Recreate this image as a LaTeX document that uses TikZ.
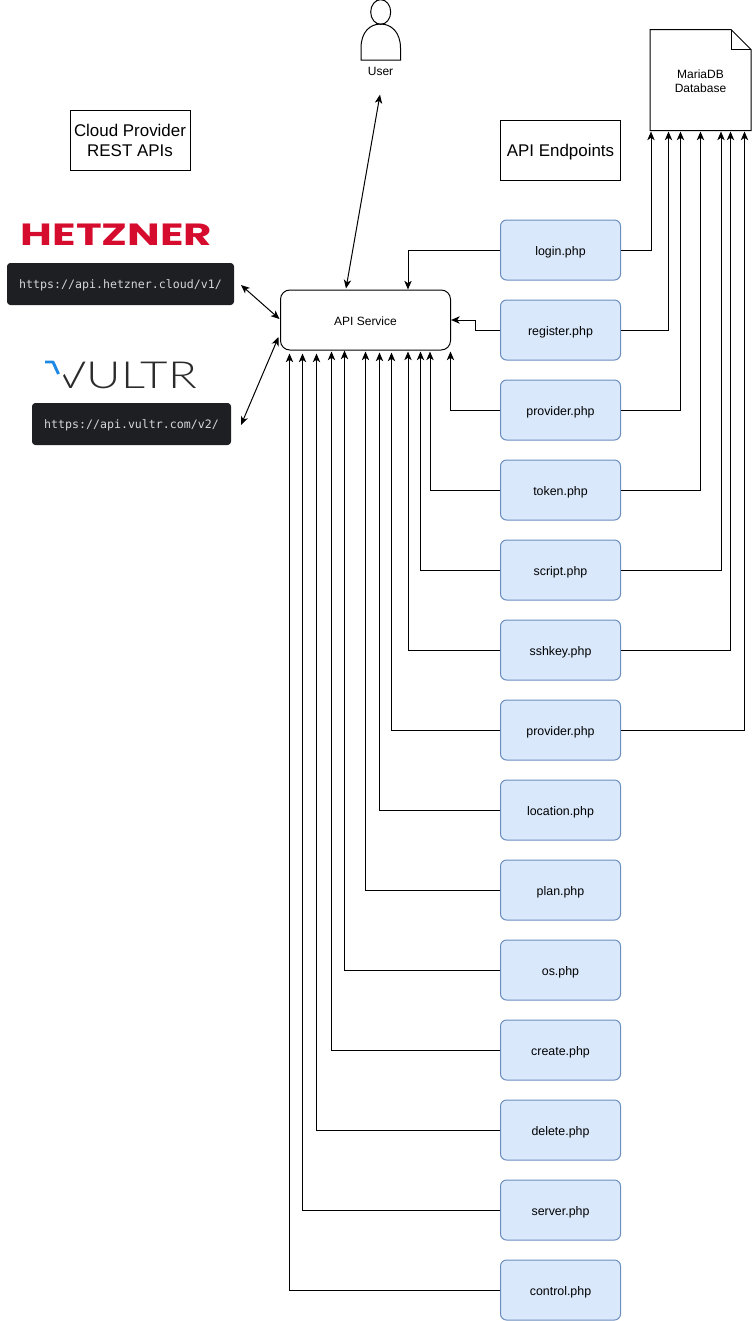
\documentclass[tikz,border=0pt]{standalone}
\usepackage{fontspec}
\setmainfont{Liberation Sans}
\setmonofont{DejaVu Sans Mono}
\newfontfamily\hetznerfont{Poppins}
\newfontfamily\vultrfont{Lato Light}
\usetikzlibrary{arrows.meta, calc, shapes.geometric}
\definecolor{endpointfill}{HTML}{DAE8FC}
\definecolor{endpointline}{HTML}{6C8EBF}
\definecolor{urlfill}{HTML}{1E1F22}
\definecolor{urltext}{HTML}{D4D6DA}
\definecolor{hetznerred}{HTML}{D50C2D}
\definecolor{vultrblue}{HTML}{1E88E5}
\definecolor{vultrdark}{HTML}{2B2B2B}

\begin{document}
\begin{tikzpicture}[
            x=0.75pt,
            y=-0.75pt,
            >={Stealth[length=6.5pt, width=5.5pt, inset=1.8pt]},
            line width=0.75pt,
            font=\fontsize{9}{10.5}\selectfont,
            endpoint/.style={
                draw=endpointline,
                fill=endpointfill,
                rounded corners=4.5pt,
                font=\fontsize{9.3}{10.5}\selectfont,
                minimum width=90pt,
                minimum height=45pt,
                text height=8pt,
                text depth=0.5pt,
                inner sep=0pt
            },
            titlebox/.style={
                draw,
                font=\fontsize{12.7}{15}\selectfont,
                align=center,
                minimum width=90pt,
                minimum height=45pt,
                inner sep=0pt
            },
            urlbox/.style={
                fill=urlfill,
                text=urltext,
                rounded corners=2.5pt,
                font=\ttfamily\fontsize{8.7}{10}\selectfont,
                minimum height=31.5pt,
                text height=7.5pt,
                text depth=1pt,
                inner sep=0pt
            }
        ]
            \useasboundingbox (0,0) rectangle (753,1321);

            % left side
            \node[titlebox] (cloud) at (130,140) {\rule{0pt}{9.8pt}Cloud Provider\\REST APIs};
            \node[text=hetznerred, font=\hetznerfont\bfseries\fontsize{23}{25}\selectfont, xscale=1.42, inner sep=0pt] (hetzner) at (116.5,235) {HETZNER};
            \node[urlbox, minimum width=170.25pt] (hetznerurl) at (120.5,284) {https://api.hetzner.cloud/v1/};
            \node[text=vultrdark, font=\vultrfont\fontsize{28}{30}\selectfont, xscale=1.27, inner sep=0pt] (vultr) at (126.3,375) {VULTR};
            \fill[white] (53,357) -- (64,357) -- (66,372) -- (61,378) -- (53,376) -- cycle;
            \draw[vultrblue, line width=2.2pt, line join=round] (45,362) -- (53,362) -- (58.5,374);
            \node[urlbox, minimum width=149.25pt] (vultrurl) at (131.5,424) {https://api.vultr.com/v2/};

            % user
            \node[draw, ellipse, minimum width=15pt, minimum height=18.5pt, inner sep=0pt] (head) at (380.7,12) {};
            \draw (361,60) -- (361,48) .. controls (361,32) and (370,24) .. (380.7,24) .. controls (391,24) and (400.5,32) .. (400.5,48) -- (400.5,60) -- cycle;
            \node (user) at (380.5,71.5) {User};

            \node[draw, rounded corners=7pt, minimum width=127.5pt, minimum height=45pt, text height=8pt, text depth=0.5pt, inner sep=0pt] (api) at (365.5,320) {API Service};

            % database
            \node[minimum width=75pt, minimum height=75pt, align=center, inner sep=0pt] (db) at (700.5,80) {\rule{0pt}{8.75pt}MariaDB\\Database};
            \draw (db.south west) -- (db.north west) -- ($(db.north east)+(-20,0)$) -- ($(db.north east)+(0,20)$) -- (db.south east) -- cycle;
            \draw ($(db.north east)+(-20,0)$) |- ($(db.north east)+(0,20)$);

            \node[titlebox, text height=10pt, text depth=1pt] (endpoints) at (560.5,150) {API Endpoints};

            % endpoints
            \node[endpoint] (login) at (560.5,250) {login.php};
            \node[endpoint] (register) at (560.5,330) {register.php};
            \node[endpoint] (provider) at (560.5,410) {provider.php};
            \node[endpoint] (token) at (560.5,490) {token.php};
            \node[endpoint] (script) at (560.5,570) {script.php};
            \node[endpoint] (sshkey) at (560.5,650) {sshkey.php};
            \node[endpoint] (providerb) at (560.5,730) {provider.php};
            \node[endpoint] (location) at (560.5,810) {location.php};
            \node[endpoint] (plan) at (560.5,890) {plan.php};
            \node[endpoint] (os) at (560.5,970) {os.php};
            \node[endpoint] (create) at (560.5,1050) {create.php};
            \node[endpoint] (delete) at (560.5,1130) {delete.php};
            \node[endpoint] (server) at (560.5,1210) {server.php};
            \node[endpoint] (control) at (560.5,1290) {control.php};

            % outer links
            \draw[<->] ($(user.south)+(-0.5,14)$) -- ($(api.north west)+(66,-1)$);
            \draw[<->] ($(hetznerurl.east)+(6.5,1)$) -- ($(api.west)+(-0.5,-1)$);
            \draw[<->] ($(vultrurl.east)+(9.5,1)$) -- ($(api.west)+(-1.5,17)$);

            % endpoints to service
            \draw[->] (login.west) -| ($(api.north west)+(128,0)$);
            \draw[->] (register.west) -- ++(-25,0) |- (api.east);
            \draw[->] (provider.west) -| ($(api.south east)+(-0.5,1)$);
            \draw[->] (token.west) -| ($(api.south west)+(150,1)$);
            \draw[->] (script.west) -| ($(api.south west)+(140.5,1)$);
            \draw[->] (sshkey.west) -| ($(api.south west)+(128,1)$);
            \draw[->] (providerb.west) -| ($(api.south west)+(111.5,2)$);
            \draw[->] (location.west) -| ($(api.south west)+(99.5,2)$);
            \draw[->] (plan.west) -| ($(api.south west)+(85.5,1)$);
            \draw[->] (os.west) -| ($(api.south west)+(64.5,0)$);
            \draw[->] (create.west) -| ($(api.south west)+(51.5,1)$);
            \draw[->] (delete.west) -| ($(api.south west)+(36.5,3)$);
            \draw[->] (server.west) -| ($(api.south west)+(22.5,3)$);
            \draw[->] (control.west) -| ($(api.south west)+(9.5,3)$);

            % endpoints to database
            \draw[->] (login.east) -| ($(db.south west)+(1,1)$);
            \draw[->] (register.east) -| ($(db.south west)+(18.5,1)$);
            \draw[->] (provider.east) -| ($(db.south west)+(30.5,1)$);
            \draw[->] (token.east) -| ($(db.south west)+(50.5,1)$);
            \draw[->] (script.east) -| ($(db.south west)+(71,1)$);
            \draw[->] (sshkey.east) -| ($(db.south west)+(80.5,1)$);
            \draw[->] (providerb.east) -| ($(db.south west)+(94.5,1)$);
        \end{tikzpicture}
\end{document}
